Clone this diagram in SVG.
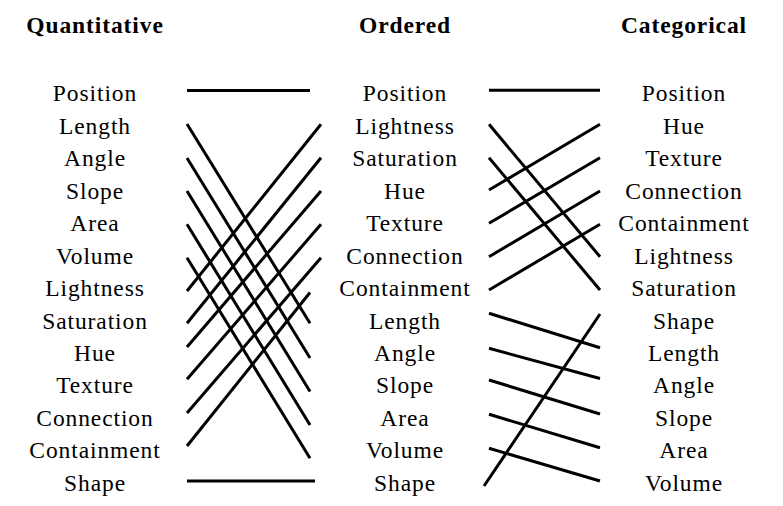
<svg xmlns="http://www.w3.org/2000/svg" width="783" height="506" viewBox="0 0 783 506">
<style>
text{font-family:"Liberation Serif","Times New Roman",serif;font-size:23.5px;letter-spacing:0.9px;fill:#000;text-anchor:middle}
.h{font-weight:bold}
#connectors line{stroke:#000;stroke-width:3;fill:none}
</style>
<rect width="783" height="506" fill="#fff"/>
<g id="headers">
<text class="h" x="95" y="33">Quantitative</text>
<text class="h" x="405" y="33">Ordered</text>
<text class="h" x="684" y="33">Categorical</text>
</g>
<g id="quantitative">
<g id="q-position"><text x="95" y="101.3">Position</text></g>
<g id="q-length"><text x="95" y="133.8">Length</text></g>
<g id="q-angle"><text x="95" y="166.2">Angle</text></g>
<g id="q-slope"><text x="95" y="198.7">Slope</text></g>
<g id="q-area"><text x="95" y="231.1">Area</text></g>
<g id="q-volume"><text x="95" y="263.6">Volume</text></g>
<g id="q-lightness"><text x="95" y="296">Lightness</text></g>
<g id="q-saturation"><text x="95" y="328.5">Saturation</text></g>
<g id="q-hue"><text x="95" y="360.9">Hue</text></g>
<g id="q-texture"><text x="95" y="393.4">Texture</text></g>
<g id="q-connection"><text x="95" y="425.8">Connection</text></g>
<g id="q-containment"><text x="95" y="458.3">Containment</text></g>
<g id="q-shape"><text x="95" y="490.7">Shape</text></g>
</g>
<g id="ordered">
<g id="o-position"><text x="405" y="101.3">Position</text></g>
<g id="o-lightness"><text x="405" y="133.8">Lightness</text></g>
<g id="o-saturation"><text x="405" y="166.2">Saturation</text></g>
<g id="o-hue"><text x="405" y="198.7">Hue</text></g>
<g id="o-texture"><text x="405" y="231.1">Texture</text></g>
<g id="o-connection"><text x="405" y="263.6">Connection</text></g>
<g id="o-containment"><text x="405" y="296">Containment</text></g>
<g id="o-length"><text x="405" y="328.5">Length</text></g>
<g id="o-angle"><text x="405" y="360.9">Angle</text></g>
<g id="o-slope"><text x="405" y="393.4">Slope</text></g>
<g id="o-area"><text x="405" y="425.8">Area</text></g>
<g id="o-volume"><text x="405" y="458.3">Volume</text></g>
<g id="o-shape"><text x="405" y="490.7">Shape</text></g>
</g>
<g id="categorical">
<g id="c-position"><text x="684" y="101.3">Position</text></g>
<g id="c-hue"><text x="684" y="133.8">Hue</text></g>
<g id="c-texture"><text x="684" y="166.2">Texture</text></g>
<g id="c-connection"><text x="684" y="198.7">Connection</text></g>
<g id="c-containment"><text x="684" y="231.1">Containment</text></g>
<g id="c-lightness"><text x="684" y="263.6">Lightness</text></g>
<g id="c-saturation"><text x="684" y="296">Saturation</text></g>
<g id="c-shape"><text x="684" y="328.5">Shape</text></g>
<g id="c-length"><text x="684" y="360.9">Length</text></g>
<g id="c-angle"><text x="684" y="393.4">Angle</text></g>
<g id="c-slope"><text x="684" y="425.8">Slope</text></g>
<g id="c-area"><text x="684" y="458.3">Area</text></g>
<g id="c-volume"><text x="684" y="490.7">Volume</text></g>
</g>
<g id="connectors">
<line x1="187" y1="90.5" x2="310" y2="90.5"/>
<line x1="187" y1="124" x2="310" y2="323.3"/>
<line x1="187" y1="158" x2="310" y2="358"/>
<line x1="187" y1="191" x2="310" y2="391.5"/>
<line x1="187" y1="224.3" x2="310" y2="425"/>
<line x1="187" y1="257.7" x2="310" y2="458.3"/>
<line x1="187" y1="291" x2="321" y2="124.3"/>
<line x1="187" y1="323.3" x2="321" y2="157.7"/>
<line x1="187" y1="347" x2="321" y2="191"/>
<line x1="187" y1="379.3" x2="321" y2="224.3"/>
<line x1="187" y1="413" x2="321" y2="257.7"/>
<line x1="187" y1="446" x2="310" y2="292.5"/>
<line x1="187" y1="481" x2="315" y2="481"/>
<line x1="489" y1="90.3" x2="600" y2="90.3"/>
<line x1="489" y1="124.3" x2="600" y2="256.7"/>
<line x1="489" y1="157.7" x2="600" y2="290"/>
<line x1="489" y1="190" x2="600" y2="124.3"/>
<line x1="489" y1="223.3" x2="600" y2="157.7"/>
<line x1="489" y1="256.7" x2="600" y2="191"/>
<line x1="489" y1="290" x2="600" y2="224.3"/>
<line x1="489" y1="313.3" x2="600" y2="347.7"/>
<line x1="489" y1="348.3" x2="600" y2="378.5"/>
<line x1="489" y1="380" x2="600" y2="414"/>
<line x1="489" y1="414.3" x2="600" y2="447.7"/>
<line x1="489" y1="448.3" x2="600" y2="481"/>
<line x1="484" y1="486" x2="600" y2="314"/>
</g>
</svg>
